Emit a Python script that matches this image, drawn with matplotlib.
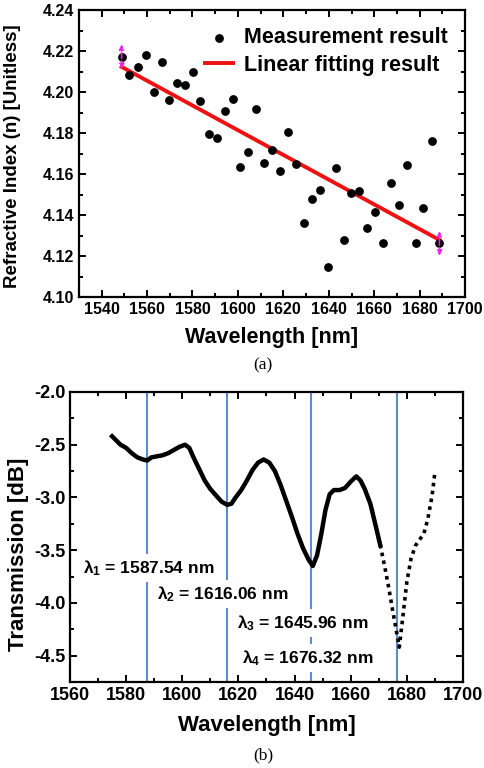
import numpy as np
import matplotlib
matplotlib.use("Agg")
import matplotlib.pyplot as plt
from matplotlib.ticker import MultipleLocator, FormatStrFormatter

plt.rcParams['font.family'] = ['Liberation Sans', 'DejaVu Sans']
plt.rcParams['font.weight'] = 'bold'
plt.rcParams['axes.unicode_minus'] = False
plt.rcParams['mathtext.fontset'] = 'custom'
plt.rcParams['mathtext.rm'] = 'Liberation Sans:bold'
plt.rcParams['mathtext.it'] = 'Liberation Sans:bold'
plt.rcParams['mathtext.bf'] = 'Liberation Sans:bold'

# (a) refractive index vs wavelength
wl_meas = [1548.8, 1552.2, 1555.8, 1559.5, 1562.9, 1566.4, 1569.8, 1573.2, 1576.6,
           1580.1, 1583.5, 1587.2, 1590.6, 1594.1, 1597.7, 1600.9, 1604.5, 1608.0,
           1611.5, 1614.9, 1618.5, 1622.0, 1625.4, 1628.9, 1632.5, 1636.0, 1639.6,
           1643.1, 1646.5, 1649.9, 1653.4, 1657.0, 1660.5, 1664.0, 1667.4, 1671.0,
           1674.5, 1678.2, 1681.6, 1685.3, 1688.7]
n_meas = [4.2172, 4.2083, 4.2124, 4.2180, 4.2002, 4.2148, 4.1961, 4.2046, 4.2034,
          4.2099, 4.1956, 4.1794, 4.1774, 4.1907, 4.1966, 4.1633, 4.1709, 4.1915,
          4.1655, 4.1717, 4.1616, 4.1807, 4.1647, 4.1364, 4.1481, 4.1522, 4.1148,
          4.1631, 4.1278, 4.1509, 4.1519, 4.1338, 4.1416, 4.1262, 4.1555, 4.1449,
          4.1644, 4.1262, 4.1436, 4.1761, 4.1262]
n_err = 0.006

# (b) transmission spectrum
wl_t = [1575, 1576.5, 1578, 1580, 1582, 1584, 1586, 1587.5, 1589, 1591, 1593, 1595,
        1597, 1599, 1601, 1602.5, 1604, 1606, 1608, 1610, 1612, 1614, 1616, 1617.5,
        1619, 1621, 1623, 1625, 1627, 1629, 1631, 1633, 1635, 1637, 1639, 1641, 1643,
        1645, 1646.5, 1648, 1649.5, 1651, 1652.5, 1654, 1656, 1658, 1660, 1662, 1663.5,
        1665, 1667, 1669, 1670.5, 1672, 1673.5, 1675, 1676.5, 1677.3, 1678.5, 1680,
        1681.5, 1683, 1684.5, 1686, 1687.5, 1689, 1690]
trans = [-2.42, -2.46, -2.50, -2.53, -2.58, -2.62, -2.64, -2.65, -2.62, -2.61, -2.60,
         -2.58, -2.55, -2.52, -2.50, -2.53, -2.62, -2.73, -2.84, -2.92, -2.98, -3.04,
         -3.07, -3.06, -3.00, -2.93, -2.84, -2.74, -2.67, -2.64, -2.67, -2.75, -2.88,
         -3.03, -3.18, -3.34, -3.48, -3.59, -3.65, -3.55, -3.35, -3.12, -2.97, -2.93,
         -2.93, -2.91, -2.85, -2.80, -2.84, -2.92, -3.06, -3.28, -3.45, -3.64, -3.85,
         -4.08, -4.30, -4.42, -4.15, -3.80, -3.58, -3.46, -3.40, -3.35, -3.20, -2.98,
         -2.76]
sparse_from = 1670.5
res_wl = [1587.54, 1616.06, 1645.96, 1676.32]
res_labels = ['λ$_1$ = 1587.54 nm', 'λ$_2$ = 1616.06 nm',
              'λ$_3$ = 1645.96 nm', 'λ$_4$ = 1676.32 nm']
label_pos = [(1564.6, -3.67), (1591.0, -3.915), (1619.5, -4.19), (1621.3, -4.52)]


def style_axes(ax, tick_size):
    for s in ax.spines.values():
        s.set_linewidth(1.6)
    ax.tick_params(which='both', direction='in', top=True, right=True,
                   width=1.4, labelsize=tick_size)
    ax.tick_params(which='major', length=5)
    ax.tick_params(which='minor', length=3)


fig = plt.figure(figsize=(4.84, 7.68), dpi=100)

ax1 = fig.add_axes([0.163, 0.613, 0.798, 0.374])
ax1.scatter(wl_meas, n_meas, s=28, color='black', zorder=3, label='Measurement result')
coef = np.polyfit(wl_meas, n_meas, 1)
fit_x = np.array([wl_meas[0], wl_meas[-1]])
ax1.plot(fit_x, np.polyval(coef, fit_x), color='#ee1111', lw=2.8, zorder=2,
         label='Linear fitting result')
for i in [0, -1]:
    ax1.annotate('', xy=(wl_meas[i], n_meas[i] + n_err),
                 xytext=(wl_meas[i], n_meas[i] - n_err),
                 arrowprops=dict(arrowstyle='<|-|>', color='#ee22ee', lw=1.2,
                                 ls='--', mutation_scale=7, shrinkA=0, shrinkB=0),
                 zorder=4)
ax1.set_xlim(1530, 1700)
ax1.set_ylim(4.10, 4.24)
ax1.xaxis.set_major_locator(MultipleLocator(20))
ax1.xaxis.set_minor_locator(MultipleLocator(10))
ax1.yaxis.set_major_locator(MultipleLocator(0.02))
ax1.yaxis.set_minor_locator(MultipleLocator(0.01))
ax1.yaxis.set_major_formatter(FormatStrFormatter('%.2f'))
style_axes(ax1, 11.5)
ax1.set_xlabel('Wavelength [nm]', fontsize=15.5, fontweight='bold')
ax1.set_ylabel('Refractive Index (n) [Unitless]', fontsize=13.5, fontweight='bold')
ax1.yaxis.set_label_coords(-0.15, 0.49)
ax1.xaxis.set_label_coords(0.5, -0.105)
ax1.legend(loc='upper right', frameon=False, handlelength=1.3,
           handletextpad=0.5, labelspacing=0.3, borderaxespad=0.4,
           alignment='right', prop={'weight': 'bold', 'size': 15.5})
fig.text(263 / 484, 1 - 365 / 768, '(a)', ha='center', va='center',
         family='Liberation Serif', fontweight='normal', fontsize=12.5)

ax2 = fig.add_axes([0.1446, 0.112, 0.812, 0.3776])
for w in res_wl:
    ax2.axvline(w, color='#5b8ccb', lw=1.5, zorder=1)
wl_arr = np.array(wl_t)
tr_arr = np.array(trans)
dense = wl_arr <= sparse_from
tail = wl_arr >= wl_arr[dense][-1]
ax2.plot(wl_arr[dense], tr_arr[dense], color='black', lw=3.2, zorder=3)
ax2.plot(wl_arr[tail], tr_arr[tail], color='black', lw=2.6, ls=(0, (1, 1.2)),
         zorder=3)
for txt, (tx, ty) in zip(res_labels, label_pos):
    ax2.text(tx, ty, txt, ha='left', va='center', fontsize=12.5,
             fontweight='bold', zorder=4,
             bbox=dict(facecolor='white', edgecolor='none', pad=3))
ax2.set_xlim(1560, 1700)
ax2.set_ylim(-4.75, -2.0)
ax2.xaxis.set_major_locator(MultipleLocator(20))
ax2.xaxis.set_minor_locator(MultipleLocator(10))
ax2.yaxis.set_major_locator(MultipleLocator(0.5))
ax2.yaxis.set_minor_locator(MultipleLocator(0.25))
ax2.yaxis.set_major_formatter(FormatStrFormatter('%.1f'))
style_axes(ax2, 13)
ax2.set_xlabel('Wavelength [nm]', fontsize=16, fontweight='bold')
ax2.set_ylabel('Transmission [dB]', fontsize=16, fontweight='bold')
ax2.yaxis.set_label_coords(-0.105, 0.44)
ax2.xaxis.set_label_coords(0.5, -0.115)
fig.text(263 / 484, 1 - 755 / 768, '(b)', ha='center', va='center',
         family='Liberation Serif', fontweight='normal', fontsize=12.5)

fig.canvas.draw()
for ax in (ax1, ax2):
    for lab in ax.get_xticklabels() + ax.get_yticklabels():
        lab.set_fontweight('bold')

fig.savefig('out.png', dpi=100)
